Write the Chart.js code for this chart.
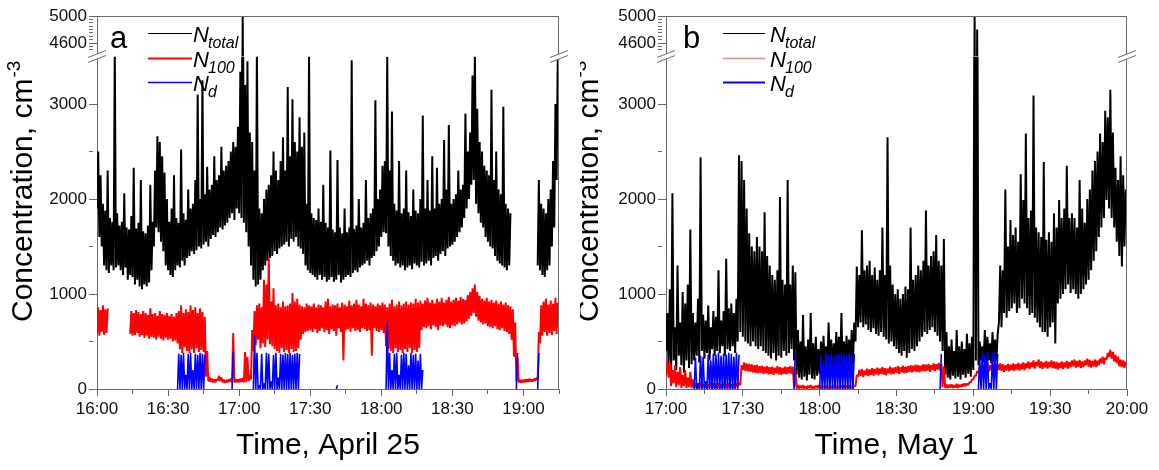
<!DOCTYPE html>
<html>
<head>
<meta charset="utf-8">
<title>Concentration</title>
<script src="https://cdn.jsdelivr.net/npm/chart.js@4.4.1/dist/chart.umd.min.js"></script>
<style>
  html, body { margin: 0; padding: 0; background: #fff; }
  #wrap { position: relative; width: 1159px; height: 470px; }
  .panel { position: absolute; top: 0; height: 470px; }
</style>
</head>
<body>
<div id="wrap">
  <div class="panel" style="left:0;width:580px"><canvas id="chartA" width="580" height="470"></canvas></div>
  <div class="panel" style="left:580px;width:579px"><canvas id="chartB" width="579" height="470"></canvas></div>
</div>
<script>
// ---- Panel a: April 25, 16:00 - 19:15 (x = minutes after midnight) ----
const startA = 960;
const endA = 1155;

// N_total, upper and lower edge of the signal for every minute (null = no data)
const totalHiA = [
  2500, 2250, 1950, 1880, 2300, 1800, 1760, 3600, 1850, 1720,
  1760, 2060, 1700, 1680, 1820, 2330, 1690, 1750, 2200, 1660,
  1640, 1720, 2150, 1760, 2300, 2660, 2600, 2450, 2280, 2000,
  1760, 1900, 2250, 1800, 1750, 2520, 1850, 1780, 2100, 1900,
  1950, 2200, 3100, 2000, 3250, 2050, 2340, 2100, 2150, 2450,
  2200, 2250, 2550, 2300, 2350, 2400, 2500, 2600, 2550, 2760,
  3340, 5000, 3200, 3450, 2700, 2600, 2300, 3600, 1900, 1850,
  2000, 2100, 2150, 2250, 2500, 2300, 2200, 2400, 2650, 2300,
  3180, 2450, 3050, 2600, 2500, 2860, 2550, 2700, 1950, 3550,
  1850, 1800, 1780, 1900, 1760, 2150, 1750, 1700, 2510, 1680,
  1650, 2410, 1700, 1640, 1900, 1650, 1700, 3460, 1680, 1720,
  2000, 1700, 1750, 2200, 1800, 1850, 1900, 3040, 2000, 2100,
  2350, 2400, 3500, 2300, 2920, 1950, 1880, 2400, 1850, 1900,
  2300, 1860, 1820, 2100, 1880, 1850, 2000, 2880, 1900, 2200,
  1880, 2450, 1900, 2330, 1950, 2000, 2620, 2100, 2780, 1950,
  2000, 2050, 2300, 2100, 2150, 2900, 2500, 2700, 3300, 3530,
  2950, 2600, 2500, 2350, 2300, 2250, 3150, 2200, 2500, 2100,
  2050, 2970, 1950, 1900, 1850, null, null, null, null, null,
  null, null, null, null, null, null, 2200, 1950, 1900, 1850,
  2000, 2100, 2400, 3000, 3600
];
const totalLoA = [
  1900, 1600, 1500, 1300, 1250, 1220, 1300, 1250, 1280, 1300,
  1250, 1200, 1280, 1150, 1200, 1180, 1100, 1150, 1080, 1050,
  1100, 1080, 1120, 1250, 1500, 1700, 1650, 1550, 1450, 1300,
  1250, 1200, 1180, 1250, 1300, 1280, 1350, 1300, 1380, 1400,
  1450, 1420, 1460, 1500, 1480, 1520, 1550, 1500, 1580, 1620,
  1600, 1650, 1700, 1680, 1720, 1750, 1800, 1850, 1780, 1900,
  1850, 1800, 1750, 1650, 1500, 1300, 1150, 1080, 1100, 1150,
  1250, 1300, 1350, 1380, 1400, 1450, 1420, 1480, 1500, 1520,
  1550, 1500, 1580, 1550, 1600, 1500, 1480, 1420, 1300, 1250,
  1220, 1200, 1180, 1150, 1200, 1150, 1180, 1130, 1150, 1180,
  1130, 1150, 1200, 1120, 1150, 1180, 1200, 1180, 1220, 1250,
  1230, 1280, 1300, 1320, 1350, 1300, 1380, 1400, 1450, 1500,
  1600, 1650, 1640, 1500, 1400, 1350, 1300, 1320, 1280, 1300,
  1250, 1280, 1300, 1260, 1320, 1300, 1280, 1340, 1300, 1320,
  1350, 1300, 1380, 1400, 1350, 1420, 1450, 1400, 1480, 1500,
  1520, 1550, 1600, 1650, 1700, 1800, 1900, 2000, 2150, 2200,
  1950, 1850, 1750, 1700, 1600, 1550, 1500, 1480, 1400, 1350,
  1320, 1300, 1280, 1250, 1300, null, null, null, null, null,
  null, null, null, null, null, null, 1300, 1250, 1200, 1180,
  1250, 1300, 1500, 1700, 2200
];

// N_100, upper and lower edge for every minute
const n100HiA = [
  860, 830, 880, 840, 850, null, null, null, null, null,
  null, null, null, null, 820, 800, 830, 810, 790, 820,
  800, 780, 850, 790, 800, 770, 820, 790, 780, 800,
  770, 790, 760, 800, 820, 880, 800, 840, 810, 880,
  830, 860, 800, 850, 810, 760, 400, 130, 110, 100,
  105, 140, 120, 100, 95, 100, 110, 590, 105, 100,
  110, 115, 390, 340, 150, 620, 820, 880, 900, 860,
  1150, 1100, 1390, 920, 1060, 880, 900, 860, 920, 870,
  880, 900, 1010, 920, 950, 890, 870, 860, 900, 880,
  870, 900, 860, 890, 880, 860, 920, 950, 870, 890,
  880, 900, 860, 910, 890, 870, 930, 880, 900, 940,
  890, 870, 950, 900, 880, 910, 890, 870, 900, 880,
  910, 890, 860, 900, 940, 870, 890, 920, 880, 900,
  920, 890, 910, 900, 950, 910, 930, 900, 930, 960,
  910, 940, 900, 950, 920, 960, 910, 940, 970, 920,
  940, 960, 930, 970, 950, 940, 990, 1020, 1060, 1100,
  1020, 980, 950, 930, 960, 920, 940, 910, 930, 900,
  920, 890, 910, 880, 870, 840, 700, 340, 100, 95,
  100, 105, 110, 100, 110, 120, 600, 880, 920, 950,
  890, 930, 900, 960, 910
];
const n100LoA = [
  580, 560, 600, 570, 590, null, null, null, null, null,
  null, null, null, null, 580, 560, 570, 590, 550, 570,
  540, 560, 530, 550, 540, 520, 550, 530, 510, 540,
  520, 530, 500, 510, 480, 420, 380, 440, 400, 380,
  420, 380, 430, 390, 410, 390, 130, 80, 75, 70,
  70, 90, 85, 70, 65, 70, 75, 70, 68, 70,
  72, 75, 70, 72, 80, 100, 400, 460, 520, 430,
  480, 440, 520, 470, 450, 420, 400, 380, 430, 390,
  410, 380, 420, 390, 400, 430, 520, 580, 600, 610,
  620, 600, 630, 590, 610, 640, 600, 620, 580, 630,
  610, 560, 640, 600, 300, 620, 630, 600, 640, 610,
  620, 600, 640, 630, 610, 620, 350, 640, 610, 600,
  620, 590, 450, 420, 400, 380, 430, 390, 410, 380,
  420, 390, 430, 380, 410, 390, 430, 620, 650, 640,
  660, 630, 670, 650, 620, 670, 660, 680, 650, 640,
  670, 660, 680, 700, 680, 690, 710, 740, 770, 800,
  760, 720, 700, 680, 690, 660, 650, 640, 660, 630,
  620, 640, 610, 600, 580, 520, 340, 80, 70, 68,
  70, 72, 75, 78, 80, 85, 100, 480, 560, 600,
  560, 590, 570, 610, 580
];

// N_d, [minute after start, peak] (goes back to zero every minute)
const ndA = [
  [34, 370], [35, 360], [36, 380], [37, 150], [38, 370], [39, 380], [40, 200], [41, 370],
  [42, 360], [43, 380], [44, 370], [45, 360],
  [57, 390],
  [66, 570], [67, 380], [68, 40], [69, 370], [70, 60], [71, 380], [72, 370], [73, 80],
  [74, 360], [75, 380], [76, 120], [77, 370], [78, 360], [79, 380], [80, 370], [81, 380],
  [82, 360], [83, 370], [84, 380], [85, 370],
  [101, 40],
  [122, 700], [123, 380], [124, 200], [125, 370], [126, 380], [127, 150], [128, 360],
  [129, 380], [130, 370], [131, 250], [132, 380], [133, 360], [134, 370], [135, 300],
  [136, 370], [137, 200],
  [177, 380],
  [186, 380]
];

// ---- Panel b: May 1, 17:00 - 20:00 ----
const startB = 1020;
const endB = 1200;

const totalHiB = [
  800, 1050, 2060, 650, 1300, 700, 1020, 900, 1100, 1680,
  800, 700, 950, 2440, 780, 720, 880, 650, 820, 760,
  1250, 720, 820, 1370, 850, 900, 800, 950, 2460, 2400,
  2200, 1900, 1640, 1500, 1450, 1600, 1500, 1450, 1860, 1400,
  1300, 1200, 1150, 1250, 2020, 1150, 1100, 2200, 1100, 1300,
  1230, 620, 500, 780, 450, 520, 800, 480, 550, 420,
  500, 560, 450, 700, 520, 480, 600, 550, 800, 500,
  560, 520, 620, 700, 1290, 1200, 1670, 1250, 1300, 1350,
  1200, 1280, 1150, 1250, 1700, 1200, 2650, 1300, 1100, 1000,
  1050, 950, 1000, 1080, 1050, 1700, 1150, 1200, 1300, 1250,
  1350, 1880, 1300, 1400, 1450, 1620, 1350, 1300, 1580, 600,
  450, 520, 400, 620, 450, 500, 420, 580, 480, 550,
  5000, 4800, 500, 450, 620, 550, 480, 600, 520, 580,
  1300, 1250, 2100, 1500, 1780, 1620, 1700, 1550, 2260, 1990,
  2690, 1800, 1880, 3090, 1700, 1650, 1600, 2390, 1570, 1650,
  1550, 1850, 1700, 1990, 1800, 1900, 2350, 1800, 1850, 1800,
  1700, 2200, 1900, 1750, 2000, 2100, 2300, 2400, 2500, 2690,
  2600, 2930, 2860, 3150, 2700, 2330, 2200, 2450, 2250, 2100
];
const totalLoB = [
  400, 250, 180, 300, 200, 350, 250, 170, 300, 220,
  260, 300, 350, 280, 400, 320, 380, 300, 420, 350,
  400, 380, 450, 350, 420, 400, 450, 380, 500, 600,
  550, 500, 480, 450, 500, 450, 420, 450, 400, 380,
  350, 320, 380, 300, 350, 330, 400, 350, 380, 420,
  300, 150, 120, 100, 130, 90, 150, 110, 100, 140,
  160, 200, 180, 220, 200, 180, 240, 200, 230, 190,
  220, 250, 200, 260, 500, 650, 700, 650, 680, 620,
  600, 640, 580, 560, 600, 550, 520, 480, 500, 450,
  420, 380, 350, 400, 330, 380, 420, 400, 450, 500,
  550, 600, 580, 620, 650, 600, 560, 500, 400, 150,
  120, 100, 140, 110, 130, 100, 150, 120, 160, 130,
  200, 300, 250, 300, 280, 260, 300, 270, 290, 300,
  700, 650, 800, 750, 820, 850, 900, 800, 850, 950,
  900, 850, 780, 800, 750, 700, 650, 600, 600, 550,
  650, 700, 480, 900, 950, 1000, 1050, 1100, 1010, 1050,
  1000, 950, 1000, 1050, 1100, 1150, 1250, 1350, 1450, 1600,
  1700, 1800, 1990, 1900, 1800, 1700, 1550, 1400, 1290, 1500
];

const n100HiB = [
  300, 280, 200, 250, 180, 230, 150, 200, 120, 180,
  100, 60, 50, 70, 55, 60, 50, 65, 60, 55,
  60, 50, 65, 55, 60, 50, 55, 60, 70, 250,
  280, 270, 265, 260, 250, 255, 240, 245, 235, 240,
  230, 235, 225, 240, 230, 225, 235, 230, 240, 235,
  200, 40, 35, 40, 30, 35, 40, 30, 35, 40,
  35, 30, 40, 35, 30, 40, 35, 30, 35, 40,
  35, 40, 30, 40, 150, 200, 210, 195, 215, 205,
  220, 210, 225, 215, 230, 220, 215, 235, 225, 230,
  240, 230, 245, 235, 240, 250, 245, 255, 250, 245,
  260, 255, 265, 250, 270, 260, 275, 265, 240, 50,
  45, 50, 40, 55, 45, 50, 60, 55, 70, 100,
  140, 190, 240, 250, 255, 260, 250, 265, 255, 260,
  270, 260, 250, 265, 255, 270, 260, 275, 265, 280,
  270, 290, 280, 300, 285, 310, 290, 280, 295, 285,
  300, 290, 285, 275, 290, 280, 295, 285, 300, 310,
  295, 305, 290, 300, 320, 305, 295, 310, 300, 320,
  340, 330, 380, 410, 390, 360, 340, 310, 300, 290
];
const n100LoB = [
  150, 120, 30, 60, 20, 40, 10, 30, 10, 20,
  10, 10, 5, 10, 5, 10, 5, 10, 5, 10,
  5, 10, 5, 10, 5, 10, 5, 10, 20, 40,
  200, 190, 185, 180, 175, 170, 165, 170, 160, 165,
  155, 160, 150, 165, 155, 150, 160, 155, 165, 160,
  20, 5, 5, 10, 5, 5, 10, 5, 5, 10,
  5, 5, 10, 5, 5, 10, 5, 5, 10, 5,
  5, 10, 5, 10, 30, 130, 140, 125, 145, 135,
  150, 140, 155, 145, 160, 150, 145, 165, 155, 160,
  170, 160, 175, 165, 170, 180, 175, 185, 180, 175,
  190, 185, 195, 180, 200, 190, 205, 195, 20, 10,
  10, 15, 10, 15, 10, 20, 25, 30, 40, 70,
  100, 140, 170, 180, 185, 190, 180, 195, 185, 190,
  200, 190, 180, 195, 185, 200, 190, 205, 195, 210,
  200, 220, 210, 230, 215, 240, 220, 210, 225, 215,
  230, 220, 215, 205, 220, 210, 225, 215, 230, 240,
  225, 235, 220, 230, 250, 235, 225, 240, 230, 250,
  270, 260, 310, 340, 320, 290, 270, 240, 230, 220
];

const ndB = [
  [11, 330], [12, 60], [13, 350], [14, 340], [15, 80], [16, 360], [17, 300], [18, 370],
  [19, 360], [20, 380], [21, 350], [22, 370], [23, 360], [24, 380], [25, 370], [26, 340],
  [27, 380], [28, 360],
  [50, 370],
  [60, 360], [61, 300], [62, 370], [63, 350], [64, 380], [65, 340], [66, 370], [67, 360],
  [68, 380], [69, 370], [70, 350], [71, 380], [72, 360], [73, 370],
  [107, 370],
  [122, 330], [123, 380], [124, 350], [125, 390], [126, 60], [127, 380], [128, 390], [129, 370]
];

// ---- Axes ----
const yLowMax = 3500;
const yHighMin = 4400;
const yHighMax = 5000;
const yLowLabels = [0, 1000, 2000, 3000];
const yHighLabels = [4600, 5000];
const legendSubs = ['total', '100', 'd'];

const fontFamily = '"Liberation Sans", Arial, Helvetica, sans-serif';
const axisColor = '#6a6a6a';
Chart.defaults.font.family = fontFamily;
Chart.defaults.color = '#111';

// time label from minutes after midnight
function hhmm(v) {
  const h = Math.floor(v / 60);
  const m = v % 60;
  return h + ':' + String(m).padStart(2, '0');
}

// zigzag between the lower and upper edge, two points per minute
function band(start, hi, lo) {
  const pts = [];
  hi.forEach((h, i) => {
    if (h === null) {
      pts.push({x: start + i, y: null});
      return;
    }
    pts.push({x: start + i, y: lo[i]});
    pts.push({x: start + i + 0.5, y: h});
  });
  return pts;
}

// spikes from zero; a missing minute breaks the line
function spikes(start, pairs) {
  const pts = [];
  let prev = null;
  pairs.forEach(([m, v]) => {
    if (prev !== null && m !== prev + 1) pts.push({x: start + prev + 1, y: null});
    pts.push({x: start + m, y: 0});
    pts.push({x: start + m + 0.5, y: v});
    prev = m;
  });
  return pts;
}

// clip every dataset to its own part of the broken axis, draw frame, breaks, legend, y title
const panelDecor = {
  id: 'panelDecor',
  beforeDatasetDraw(chart, args) {
    const ys = args.meta.yScale;
    const a = chart.chartArea;
    const ctx = chart.ctx;
    ctx.save();
    ctx.beginPath();
    ctx.rect(a.left, ys.top, a.right - a.left, ys.bottom - ys.top);
    ctx.clip();
  },
  afterDatasetDraw(chart) {
    chart.ctx.restore();
  },
  afterDraw(chart, args, opts) {
    const ctx = chart.ctx;
    const a = chart.chartArea;
    const yb = chart.scales.yLow.top;
    ctx.save();

    // top and right border
    ctx.strokeStyle = axisColor;
    ctx.lineWidth = 1;
    ctx.beginPath();
    ctx.moveTo(Math.round(a.left), Math.round(a.top) + 0.5);
    ctx.lineTo(Math.round(a.right) - 0.5, Math.round(a.top) + 0.5);
    ctx.lineTo(Math.round(a.right) - 0.5, Math.round(a.bottom));
    ctx.stroke();

    // axis break marks
    [a.left, a.right].forEach(x => {
      ctx.fillStyle = '#fff';
      ctx.beginPath();
      ctx.moveTo(x - 9, yb + 1);
      ctx.lineTo(x + 9, yb - 6);
      ctx.lineTo(x + 9, yb - 1);
      ctx.lineTo(x - 9, yb + 6);
      ctx.closePath();
      ctx.fill();
      ctx.strokeStyle = axisColor;
      ctx.beginPath();
      ctx.moveTo(x - 9, yb + 1);
      ctx.lineTo(x + 9, yb - 6);
      ctx.moveTo(x - 9, yb + 6);
      ctx.lineTo(x + 9, yb - 1);
      ctx.stroke();
    });

    // panel letter and legend
    ctx.fillStyle = '#000';
    ctx.textAlign = 'left';
    ctx.textBaseline = 'alphabetic';
    ctx.font = '31px ' + fontFamily;
    ctx.fillText(opts.letter, opts.letterX, 48);
    const rowY = [33, 58, 82];
    legendSubs.forEach((sub, i) => {
      ctx.strokeStyle = opts.legendColors[i];
      ctx.lineWidth = opts.legendWidths[i];
      ctx.beginPath();
      ctx.moveTo(opts.lineX0, rowY[i] + 0.5);
      ctx.lineTo(opts.lineX1, rowY[i] + 0.5);
      ctx.stroke();
      ctx.fillStyle = '#000';
      ctx.font = 'italic 22px ' + fontFamily;
      ctx.fillText('N', opts.textX, rowY[i] + 9);
      ctx.font = 'italic 16px ' + fontFamily;
      ctx.fillText(sub, opts.textX + 15, rowY[i] + 15);
    });

    // y title with superscript
    ctx.translate(opts.titleX, 322);
    ctx.rotate(-Math.PI / 2);
    ctx.font = '30px ' + fontFamily;
    ctx.fillText('Concentration, cm', 0, 0);
    const w = ctx.measureText('Concentration, cm').width;
    ctx.font = '19px ' + fontFamily;
    ctx.fillText('-3', w + 1, -12);
    ctx.restore();
  }
};

function makeChart(id, p) {
  // thick enough for the per-minute zigzag to close into a solid band
  const common = {pointRadius: 0, borderWidth: 2, borderJoinStyle: 'bevel', tension: 0, spanGaps: false, fill: false};
  const ctx = document.getElementById(id).getContext('2d');
  return new Chart(ctx, {
    type: 'line',
    data: {
      datasets: [
        Object.assign({}, common, {label: 'N_d', data: spikes(p.start, p.nd), yAxisID: 'yLow', borderColor: '#0000ff', borderWidth: 1.6, order: 1}),
        Object.assign({}, common, {label: 'N_100', data: band(p.start, p.n100Hi, p.n100Lo), yAxisID: 'yLow', borderColor: '#ff0000', order: 2}),
        Object.assign({}, common, {label: 'N_total', data: band(p.start, p.totalHi, p.totalLo), yAxisID: 'yLow', borderColor: '#000000', order: 3}),
        Object.assign({}, common, {label: 'N_total', data: band(p.start, p.totalHi, p.totalLo), yAxisID: 'yHigh', borderColor: '#000000', order: 3})
      ]
    },
    options: {
      responsive: false,
      maintainAspectRatio: false,
      animation: false,
      events: [],
      layout: {padding: {top: 16, right: p.padRight, bottom: 0, left: 0}},
      plugins: {
        legend: {display: false},
        tooltip: {enabled: false},
        panelDecor: {
          letter: p.letter, letterX: p.letterX, lineX0: p.lineX0, lineX1: p.lineX1, textX: p.textX,
          titleX: p.titleX, legendColors: p.legendColors, legendWidths: p.legendWidths
        }
      },
      scales: {
        x: {
          type: 'linear',
          min: p.start,
          max: p.end,
          afterFit: s => { s.height = 81; },
          border: {color: axisColor, width: 1},
          grid: {
            drawOnChartArea: false,
            tickLength: 7,
            tickColor: axisColor,
            tickBorderDash: c => (c.tick && c.tick.value % 30 !== 0 ? [4, 10] : [])
          },
          ticks: {
            stepSize: 15,
            autoSkip: false,
            maxRotation: 0,
            padding: 3,
            color: '#111',
            font: {size: 17},
            callback: v => (v % 30 === 0 ? hhmm(v) : '')
          },
          title: {display: true, text: p.xTitle, color: '#000', font: {size: 30}, padding: {top: 0, bottom: 6}}
        },
        yHigh: {
          type: 'linear',
          position: 'left',
          stack: 'conc',
          stackWeight: 40.5,
          weight: 1,
          min: yHighMin,
          max: yHighMax,
          afterFit: s => { s.width = p.yWidth; },
          border: {color: axisColor, width: 1},
          grid: {
            drawOnChartArea: false,
            tickLength: 8,
            tickColor: c => (c.tick && c.tick.value <= 4450 ? 'rgba(0,0,0,0)' : axisColor),
            tickBorderDash: c => (c.tick && !yHighLabels.includes(c.tick.value) ? [4, 10] : [])
          },
          ticks: {
            stepSize: 50,
            autoSkip: false,
            padding: 2,
            color: '#111',
            font: {size: 17},
            callback: v => (yHighLabels.includes(v) ? v : '')
          }
        },
        yLow: {
          type: 'linear',
          position: 'left',
          stack: 'conc',
          stackWeight: 332.5,
          weight: 0,
          min: 0,
          max: yLowMax,
          afterFit: s => { s.width = p.yWidth; },
          border: {color: axisColor, width: 1},
          grid: {
            drawOnChartArea: false,
            tickLength: 8,
            tickColor: c => (c.tick && c.tick.value === yLowMax ? 'rgba(0,0,0,0)' : axisColor),
            tickBorderDash: c => (c.tick && c.tick.value % 1000 !== 0 ? [4, 10] : [])
          },
          ticks: {
            stepSize: 500,
            autoSkip: false,
            padding: 2,
            color: '#111',
            font: {size: 17},
            callback: v => (yLowLabels.includes(v) ? v : '')
          }
        }
      }
    },
    plugins: [panelDecor]
  });
}

const chartA = makeChart('chartA', {
  start: startA, end: endA, xTitle: 'Time, April 25', letter: 'a',
  totalHi: totalHiA, totalLo: totalLoA, n100Hi: n100HiA, n100Lo: n100LoA, nd: ndA,
  yWidth: 97, padRight: 21, titleX: 32,
  letterX: 110, lineX0: 148, lineX1: 192, textX: 193,
  legendColors: ['#000000', '#ff0000', '#0000ff'], legendWidths: [1, 2, 1.5]
});

const chartB = makeChart('chartB', {
  start: startB, end: endB, xTitle: 'Time, May 1', letter: 'b',
  totalHi: totalHiB, totalLo: totalLoB, n100Hi: n100HiB, n100Lo: n100LoB, nd: ndB,
  yWidth: 86, padRight: 32, titleX: 18,
  letterX: 103, lineX0: 143, lineX1: 185, textX: 190,
  legendColors: ['#000000', '#d98a8a', '#0000ff'], legendWidths: [1, 1.5, 2]
});
</script>
</body>
</html>
